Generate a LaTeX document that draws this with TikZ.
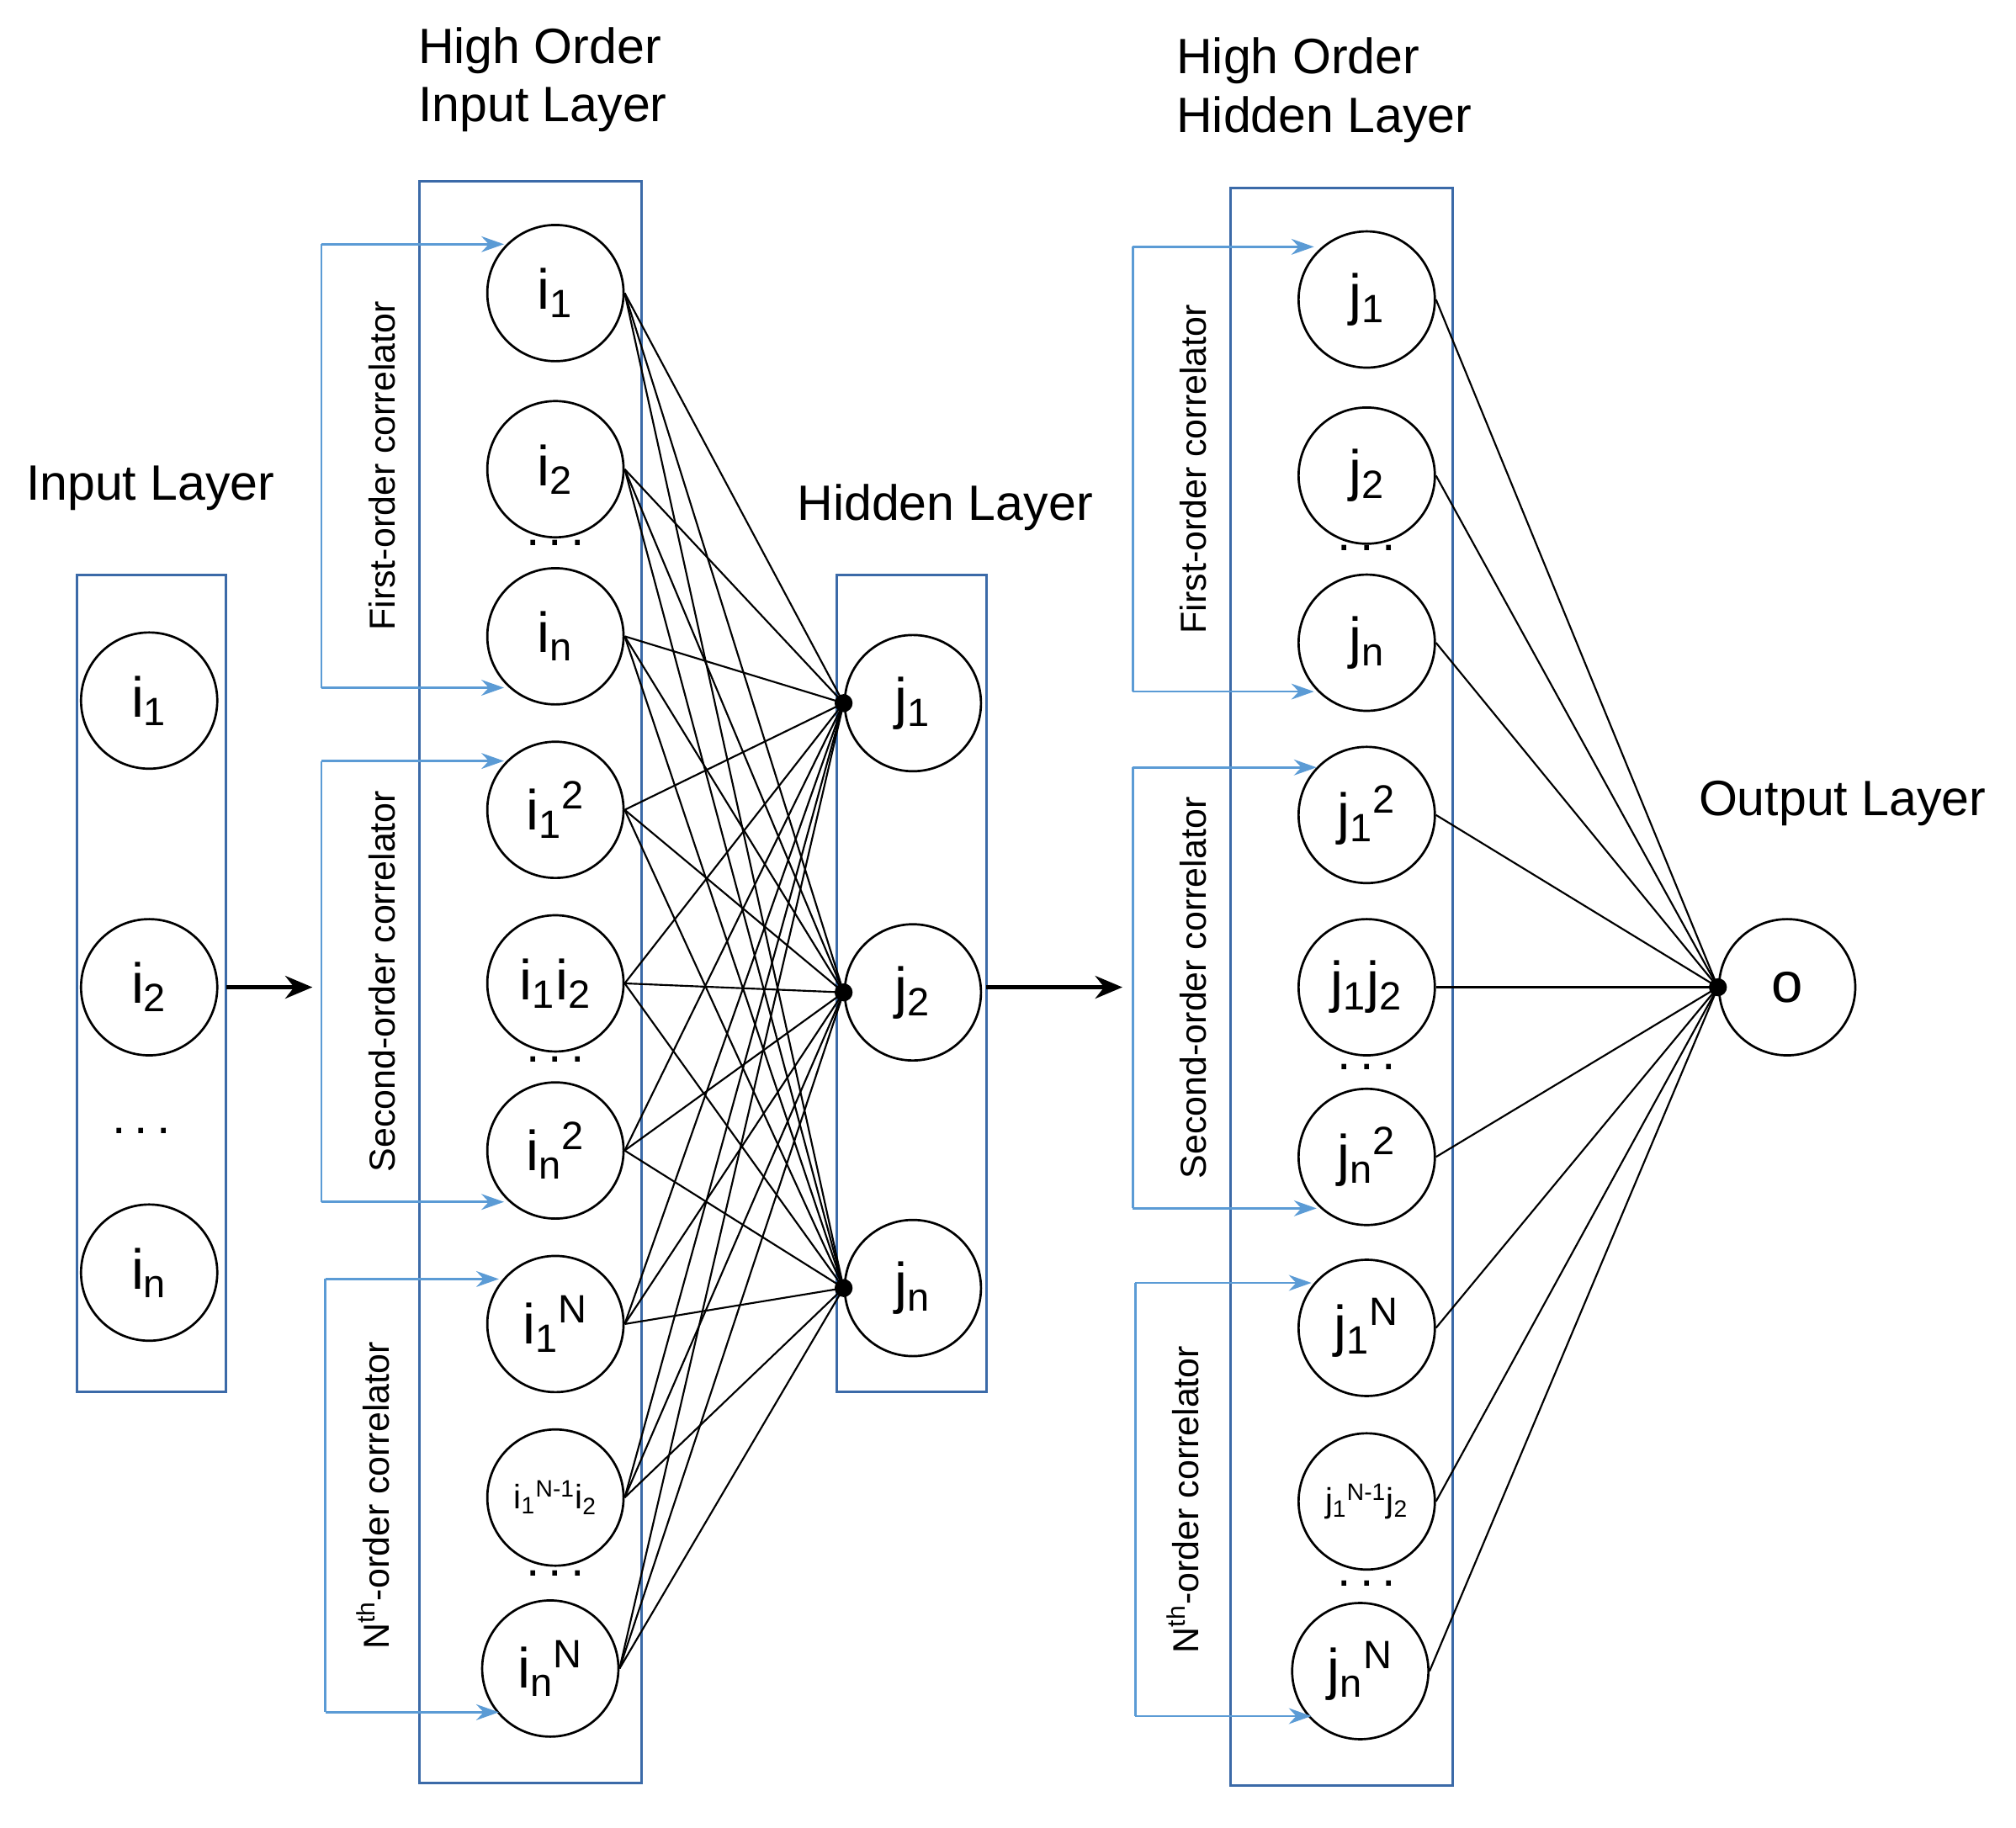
\documentclass[tikz,border=0pt]{standalone}
\usepackage{fontspec}
\setmainfont{Liberation Sans}
\usetikzlibrary{arrows.meta}
\definecolor{boxc}{HTML}{3B6AA8}
\definecolor{brc}{HTML}{5B9BD5}
\begin{document}
\begin{tikzpicture}[x=0.02cm,y=-0.02cm,
  neuron/.style={circle,draw,line width=1pt,minimum size=2.12cm,inner sep=0pt,font=\fontsize{25}{28}\selectfont},
  box/.style={draw=boxc,line width=1.1pt},
  title/.style={font=\fontsize{22}{26}\selectfont,align=left},
  corr/.style={font=\fontsize{16}{18}\selectfont,rotate=90},
  bl/.style={draw=brc,line width=1pt},
  bla/.style={bl,-{Stealth[length=10pt,width=7pt]}},
  conn/.style={line width=0.8pt},
  big/.style={line width=2pt,-{Stealth[length=12pt,width=10pt]}},
  dots/.style={font=\fontsize{22}{24}\selectfont,inner sep=0pt}]
\useasboundingbox (0,0) rectangle (1568,1422);
% Input layer
\draw[box] (60,447) rectangle (176,1083);
\node[title] at (117,380) {Input Layer};
\node[neuron] (x1) at (116,545) {i\textsubscript{1}};
\node[neuron] (x2) at (116,768) {i\textsubscript{2}};
\node[neuron] (x3) at (116,990) {i\textsubscript{n}};
\node[dots] at (110,880) {.\,.\,.};
\coordinate (ar1s) at (176,768); \coordinate (ar1e) at (243,768);
\draw[big] (ar1s) -- (ar1e);
% High order input
\draw[box] (326,141) rectangle (499,1387);
\node[title] at (422,62) {High Order\\Input Layer};
\node[neuron] (a1) at (432,228) {i\textsubscript{1}};
\node[neuron] (a2) at (432,365) {i\textsubscript{2}};
\node[neuron] (a3) at (432,495) {i\textsubscript{n}};
\node[neuron] (a4) at (432,630) {i\textsubscript{1}\textsuperscript{2}};
\node[neuron] (a5) at (432,765) {i\textsubscript{1}i\textsubscript{2}};
\node[neuron] (a6) at (432,895) {i\textsubscript{n}\textsuperscript{2}};
\node[neuron] (a7) at (432,1030) {i\textsubscript{1}\textsuperscript{N}};
\node[neuron,font=\fontsize{15}{18}\selectfont] (a8) at (432,1165) {i\textsubscript{1}\textsuperscript{N-1}i\textsubscript{2}};
\node[neuron] (a9) at (428,1298) {i\textsubscript{n}\textsuperscript{N}};
\foreach \y in {422,824,1224} \node[dots] at (432,\y) {.\,.\,.};
% brackets left
\foreach \t/\b/\x/\ex/\tx/\lab in {190/535/250/392/297/{First-order correlator},592/935/250/392/297/{Second-order correlator},995/1332/253/388/290/{N\textsuperscript{th}-order correlator}}{
  \coordinate (t) at (\x,\t); \coordinate (b) at (\x,\b);
  \coordinate (te) at (\ex,\t); \coordinate (be) at (\ex,\b);
  \draw[bl] (t) -- (b);
  \draw[bla] (t) -- (te);
  \draw[bla] (b) -- (be);
  \node[corr] at (\tx,{(\t+\b)/2}) {\lab};
}
% Hidden
\draw[box] (651,447) rectangle (767,1083);
\node[title] at (735,395) {Hidden Layer};
\node[neuron] (h1) at (710,547) {j\textsubscript{1}};
\node[neuron] (h2) at (710,772) {j\textsubscript{2}};
\node[neuron] (h3) at (710,1002) {j\textsubscript{n}};
\foreach \i in {1,...,9}\foreach \j in {1,2,3} \draw[conn] (a\i.east) -- (h\j.west);
\foreach \j in {1,2,3} \fill (h\j.west) circle (7);
\coordinate (ar2s) at (767,768); \coordinate (ar2e) at (873,768);
\draw[big] (ar2s) -- (ar2e);
% HO hidden
\draw[box] (957,146) rectangle (1130,1389);
\node[title] at (1030,70) {High Order\\Hidden Layer};
\node[neuron] (b1) at (1063,233) {j\textsubscript{1}};
\node[neuron] (b2) at (1063,370) {j\textsubscript{2}};
\node[neuron] (b3) at (1063,500) {j\textsubscript{n}};
\node[neuron] (b4) at (1063,634) {j\textsubscript{1}\textsuperscript{2}};
\node[neuron] (b5) at (1063,768) {j\textsubscript{1}j\textsubscript{2}};
\node[neuron] (b6) at (1063,900) {j\textsubscript{n}\textsuperscript{2}};
\node[neuron] (b7) at (1063,1033) {j\textsubscript{1}\textsuperscript{N}};
\node[neuron,font=\fontsize{15}{18}\selectfont] (b8) at (1063,1168) {j\textsubscript{1}\textsuperscript{N-1}j\textsubscript{2}};
\node[neuron] (b9) at (1058,1300) {j\textsubscript{n}\textsuperscript{N}};
\foreach \y in {426,830,1232} \node[dots] at (1063,\y) {.\,.\,.};
\foreach \t/\b/\x/\ex/\tx/\lab in {192/538/881/1022/928/{First-order correlator},597/940/881/1024/928/{Second-order correlator},998/1335/883/1020/920/{N\textsuperscript{th}-order correlator}}{
  \coordinate (t) at (\x,\t); \coordinate (b) at (\x,\b);
  \coordinate (te) at (\ex,\t); \coordinate (be) at (\ex,\b);
  \draw[bl] (t) -- (b);
  \draw[bla] (t) -- (te);
  \draw[bla] (b) -- (be);
  \node[corr] at (\tx,{(\t+\b)/2}) {\lab};
}
% Output
\node[title] at (1433,625) {Output Layer};
\node[neuron] (o) at (1390,768) {o};
\foreach \i in {1,...,9} \draw[conn] (b\i.east) -- (o.west);
\fill (o.west) circle (7);
\end{tikzpicture}
\end{document}
